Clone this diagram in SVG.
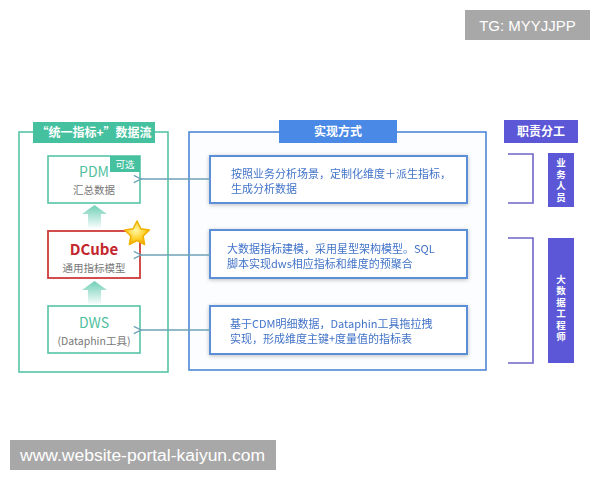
<svg xmlns="http://www.w3.org/2000/svg" width="600" height="480" viewBox="0 0 600 480">
<style>
text{font-family:"Noto Sans CJK SC","Noto Sans",sans-serif}
.tab{fill:#fff;font-size:12px;font-weight:bold;text-anchor:middle}
.grn{fill:none;stroke:#56c4a6;stroke-width:1.6}
.nodebox{fill:#fff;stroke:#56c4a6;stroke-width:1.6}
.lbl{text-anchor:middle}
.title{fill:#4fbf9f;font-size:14px}
.sub{fill:#777;font-size:10.5px}
.ibox{fill:#fff;stroke:#5b8fd8;stroke-width:2}
.itext{fill:#4173c8;font-size:11px}
.conn{stroke:#6ea2b4;stroke-width:1.3;fill:none}
.brk{fill:none;stroke:#6e64c8;stroke-width:1.6}
.vt{fill:#fff;font-size:9.5px;font-weight:bold;text-anchor:middle;writing-mode:vertical-rl;letter-spacing:2px}
.wm{fill:#a8a8a8}
.wmt{fill:#fff;font-family:"Liberation Sans",Arial,sans-serif}
</style>
<defs>
<linearGradient id="fat" x1="0" y1="0" x2="0" y2="1">
<stop offset="0" stop-color="#5fcaae" stop-opacity="0.9"/>
<stop offset="1" stop-color="#5fcaae" stop-opacity="0.05"/>
</linearGradient>
<radialGradient id="starG" cx="0.45" cy="0.4" r="0.6">
<stop offset="0" stop-color="#fff7a8"/>
<stop offset="0.6" stop-color="#ffd22e"/>
<stop offset="1" stop-color="#f0a800"/>
</radialGradient>
<filter id="glow" x="-10%" y="-20%" width="120%" height="140%">
<feGaussianBlur in="SourceAlpha" stdDeviation="2"/>
<feOffset dx="0" dy="1"/>
<feComponentTransfer><feFuncA type="linear" slope="0.25"/></feComponentTransfer>
<feMerge><feMergeNode/><feMergeNode in="SourceGraphic"/></feMerge>
</filter>
<marker id="chev" viewBox="0 0 10 10" refX="1" refY="5" markerWidth="9" markerHeight="9" markerUnits="userSpaceOnUse" orient="auto">
<path d="M9 1 L1 5 L9 9" fill="none" stroke="#6ea2b4" stroke-width="1.5"/>
</marker>
</defs>
<rect width="600" height="480" fill="#fff"/>

<g id="panel-flow">
<rect x="19" y="132" width="149" height="240" fill="#fbfefd" class="grn"/>
<rect x="33" y="122" width="122" height="21" fill="#46c19f"/>
<text x="94" y="137" class="tab">“统一指标+”数据流</text>
</g>

<g id="panel-impl">
<rect x="189" y="132" width="297" height="238" fill="#fbfdff" stroke="#4f87d6" stroke-width="1.6"/>
<rect x="279" y="120" width="118" height="23" fill="#4a89e6"/>
<text x="338" y="136" class="tab">实现方式</text>
</g>

<g id="panel-role">
<rect x="504" y="120" width="74" height="23" fill="#5b57d6"/>
<text x="541" y="136" class="tab">职责分工</text>
</g>

<g id="node-pdm">
<rect x="48" y="156" width="92" height="47" class="nodebox"/>
<rect x="110" y="156" width="30" height="16" fill="#46c19f"/>
<text x="125" y="168" fill="#fff" font-size="9.5" text-anchor="middle">可选</text>
<text class="lbl"><tspan x="94" y="176.5" class="title">PDM</tspan><tspan x="94" y="193.5" class="sub">汇总数据</tspan></text>
</g>

<g id="node-dcube">
<rect x="48" y="231" width="92" height="47" fill="#fff" stroke="#cf3a3a" stroke-width="1.8"/>
<text class="lbl"><tspan x="94" y="254.5" fill="#c4262e" font-size="15" font-weight="600">DCube</tspan><tspan x="94" y="271.5" class="sub">通用指标模型</tspan></text>
<polygon points="137,221 140.82,228.74 149.36,229.98 143.18,236.01 144.64,244.52 137,240.5 129.36,244.52 130.82,236.01 124.64,229.98 133.18,228.74" fill="url(#starG)" stroke="#f2b000" stroke-width="1.5" stroke-linejoin="round"/>
</g>

<g id="node-dws">
<rect x="48" y="306" width="92" height="47" class="nodebox"/>
<text class="lbl"><tspan x="94" y="327.5" class="title">DWS</tspan><tspan x="94" y="344.5" class="sub">(Dataphin工具)</tspan></text>
</g>

<g id="flow-arrows">
<path d="M94.5 205 L107 214 L101 214 L101 228 L88 228 L88 214 L82 214 Z" fill="url(#fat)"/>
<path d="M94.5 281 L107 290 L101 290 L101 304 L88 304 L88 290 L82 290 Z" fill="url(#fat)"/>
</g>

<g id="impl-1" filter="url(#glow)">
<rect x="210" y="156" width="257" height="47" class="ibox"/>
<text class="itext"><tspan x="231" y="178">按照业务分析场景，定制化维度＋派生指标，</tspan><tspan x="231" y="193">生成分析数据</tspan></text>
</g>

<g id="impl-2" filter="url(#glow)">
<rect x="210" y="230" width="257" height="48" class="ibox"/>
<text class="itext"><tspan x="227" y="253">大数据指标建模，采用星型架构模型。SQL</tspan><tspan x="227" y="268">脚本实现dws相应指标和维度的预聚合</tspan></text>
</g>

<g id="impl-3" filter="url(#glow)">
<rect x="210" y="306" width="257" height="48" class="ibox"/>
<text class="itext"><tspan x="230" y="328">基于CDM明细数据，Dataphin工具拖拉拽</tspan><tspan x="230" y="343">实现，形成维度主键+度量值的指标表</tspan></text>
</g>

<g id="role-biz">
<path d="M508 154 H533 V203 H508" class="brk"/>
<rect x="548" y="153" width="26" height="54" fill="#5b57d6"/>
<text x="561" y="181" class="vt">业务人员</text>
</g>

<g id="role-eng">
<path d="M508 238 H533 V363 H508" class="brk"/>
<rect x="548" y="238" width="26" height="125" fill="#5b57d6"/>
<text x="561" y="309" class="vt">大数据工程师</text>
</g>

<g id="connectors">
<line x1="210" y1="179" x2="141" y2="179" class="conn" marker-end="url(#chev)"/>
<line x1="210" y1="255" x2="141" y2="255" class="conn" marker-end="url(#chev)"/>
<line x1="210" y1="330" x2="141" y2="330" class="conn" marker-end="url(#chev)"/>
</g>

<g id="watermarks">
<rect x="465" y="10" width="125" height="30" class="wm"/>
<text x="527.5" y="31" class="wmt" font-size="15" text-anchor="middle">TG: MYYJJPP</text>
<rect x="10" y="440" width="266" height="30" class="wm"/>
<text x="20" y="461" class="wmt" font-size="16" textLength="245" lengthAdjust="spacingAndGlyphs">www.website-portal-kaiyun.com</text>
</g>
</svg>
